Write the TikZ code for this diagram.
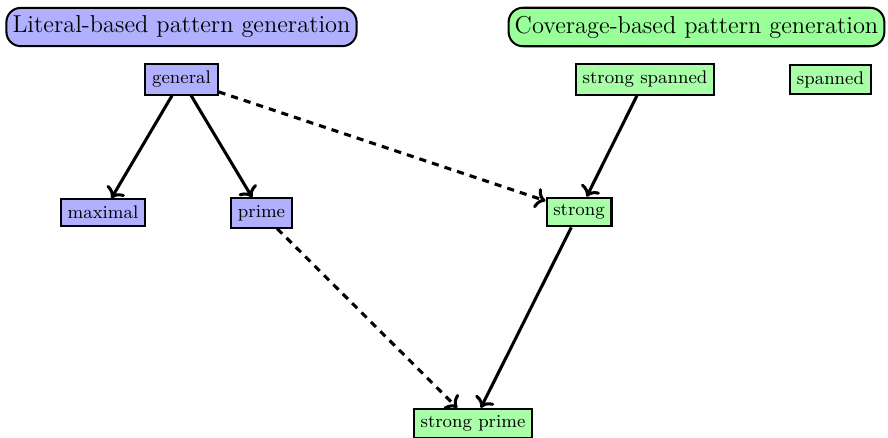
\documentclass[tikz,border=0pt]{standalone}
\usetikzlibrary{arrows.meta}
\definecolor{litfill}{RGB}{176,176,255}
\definecolor{covfill}{RGB}{168,255,168}
\definecolor{covhead}{RGB}{153,255,153}
\begin{document}
\begin{tikzpicture}[x=0.4914pt,y=-0.4914pt,
  header/.style={draw,line width=1pt,rounded corners=7pt,font=\large,inner xsep=3pt,inner ysep=4pt},
  litnode/.style={draw,line width=1pt,fill=litfill,font=\small},
  covnode/.style={draw,line width=1pt,fill=covfill,font=\small},
  solidarrow/.style={-{To},line width=1.5pt},
  dasharrow/.style={-{To},line width=1.5pt,dash pattern=on 3.5pt off 3pt}]
\useasboundingbox (0,0) rectangle (888,437);
\node[header,fill=litfill] (lithead) at (181.5,27) {Literal-based pattern generation};
\node[header,fill=covhead] (covhead) at (696.5,27) {Coverage-based pattern generation};
\node[litnode] (general) at (181.5,79.5) {general};
\node[litnode] (maximal) at (103,212.5) {maximal};
\node[litnode] (prime) at (261.5,213) {prime};
\node[covnode] (strongspanned) at (645,79.5) {strong spanned};
\node[covnode] (spanned) at (830.5,79.5) {spanned};
\node[covnode] (strong) at (579,212) {strong};
\node[covnode] (strongprime) at (473,423.5) {strong prime};
\draw[solidarrow] (general) -- (maximal);
\draw[solidarrow] (general) -- (prime);
\draw[dasharrow] (general) -- (strong);
\draw[dasharrow] (prime) -- (strongprime);
\draw[solidarrow] (strongspanned) -- (strong);
\draw[solidarrow] (strong) -- (strongprime);
\end{tikzpicture}
\end{document}
